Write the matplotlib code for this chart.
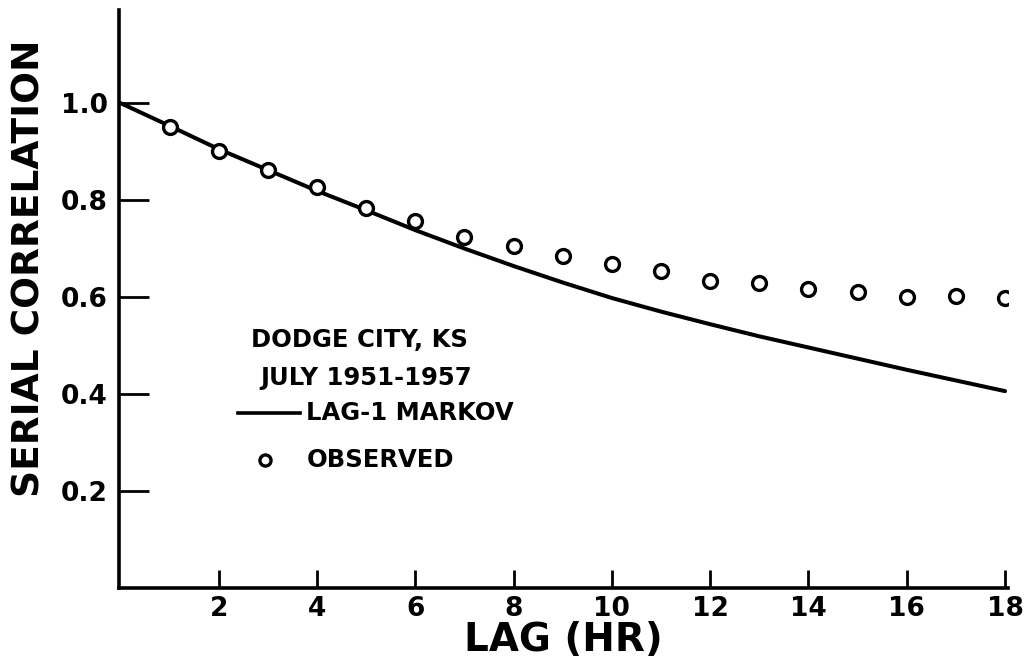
import matplotlib
matplotlib.use("Agg")
import matplotlib.pyplot as plt
from matplotlib.lines import Line2D

# ---- data ----
lags = list(range(0, 19))
markov = [1.000, 0.953, 0.905, 0.862, 0.819, 0.779, 0.738, 0.700, 0.664,
          0.630, 0.598, 0.570, 0.544, 0.519, 0.496, 0.473, 0.450, 0.428, 0.406]
obs_lags = list(range(1, 19))
observed = [0.950, 0.902, 0.863, 0.826, 0.784, 0.756, 0.724, 0.706, 0.685,
            0.669, 0.654, 0.633, 0.628, 0.616, 0.611, 0.601, 0.603, 0.599]
xticks = [2, 4, 6, 8, 10, 12, 14, 16, 18]
yticks = [0.2, 0.4, 0.6, 0.8, 1.0]
ytick_labels = ["0.2", "0.4", "0.6", "0.8", "1.0"]

plt.rcParams['font.family'] = ['DejaVu Sans']
plt.rcParams['font.weight'] = 'bold'

fig = plt.figure(figsize=(10.24, 6.70), dpi=100)
ax = fig.add_axes([119/1024, 82/670, 889/1024, 578/670])

ax.plot(lags, markov, color='black', lw=2.9, solid_capstyle='round', zorder=2)
ax.plot(obs_lags, observed, linestyle='none', marker='o', markersize=10,
        markerfacecolor='white', markeredgecolor='black', markeredgewidth=2.4, zorder=3)

ax.set_xlim(-0.03, 18.06)
ax.set_ylim(0, 1.192)
for s in ['top', 'right']:
    ax.spines[s].set_visible(False)
for s in ['left', 'bottom']:
    ax.spines[s].set_linewidth(2.6)

ax.set_xticks(xticks)
ax.set_xticklabels([str(t) for t in xticks], fontweight='bold')
ax.set_yticks(yticks)
ax.set_yticklabels(ytick_labels, fontweight='bold')
ax.tick_params(axis='x', direction='in', length=13, width=2.0, pad=6, labelsize=19)
ax.tick_params(axis='y', direction='in', length=21.5, width=2.0, pad=8, labelsize=19)

ax.set_xlabel("LAG (HR)", fontsize=28, fontweight='bold')
ax.set_ylabel("SERIAL CORRELATION", fontsize=27, fontweight='bold')
ax.xaxis.set_label_coords((563 - 119) / 889, -(640 - 588) / 578)
ax.yaxis.set_label_coords((30 - 119) / 889, (588 - 268) / 578)
ax.xaxis.label.set_va('center')
ax.yaxis.label.set_va('center')

# annotation / legend block
tkw = dict(fontsize=17.5, fontweight='bold', color='black')
ax.text(4.86, 0.511, "DODGE CITY, KS", ha='center', va='center', **tkw)
ax.text(5.0, 0.433, "JULY 1951-1957", ha='center', va='center', **tkw)
ax.add_line(Line2D([2.39, 3.65], [0.361, 0.361], color='black', lw=2.6))
ax.text(3.77, 0.361, "LAG-1 MARKOV", ha='left', va='center', **tkw)
ax.plot([2.95], [0.264], linestyle='none', marker='o', markersize=8,
        markerfacecolor='white', markeredgecolor='black', markeredgewidth=2.4)
ax.text(3.8, 0.264, "OBSERVED", ha='left', va='center', **tkw)

fig.savefig("out.png", dpi=100, facecolor='white')
